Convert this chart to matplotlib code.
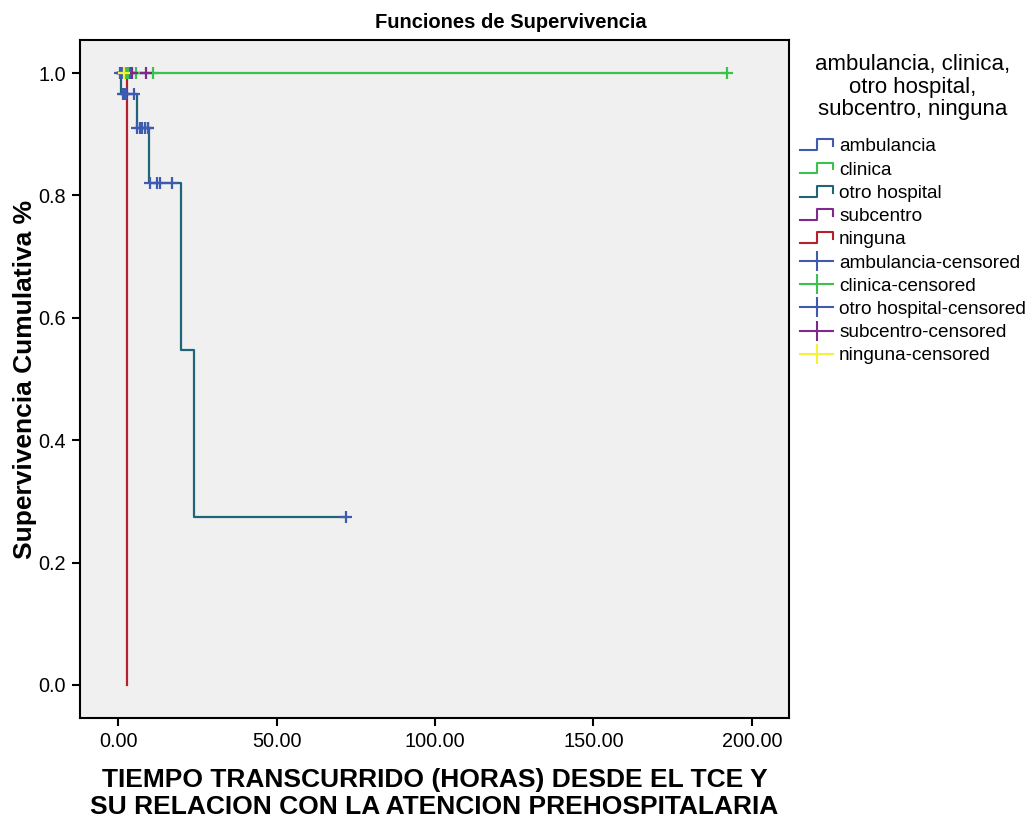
import numpy as np
import matplotlib
matplotlib.use("Agg")
import matplotlib.pyplot as plt
from matplotlib.lines import Line2D
from matplotlib.legend_handler import HandlerBase

plt.rcParams['font.family'] = ['Liberation Sans', 'DejaVu Sans']

# Kaplan-Meier curves: step times and survival after each step
groups = ["ambulancia", "clinica", "otro hospital", "subcentro", "ninguna"]

amb_times = [0.0, 3.8]
amb_surv = [1.0, 1.0]
amb_cens = [0.5, 1.2, 2.0, 3.8]

cli_times = [0.0, 192.0]
cli_surv = [1.0, 1.0]
cli_cens = [2.5, 3.0, 5.7, 11.0, 192.0]

otro_times = [0.0, 1.0, 5.9, 9.9, 19.9, 23.9, 71.8]
otro_surv = [1.0, 0.965, 0.911, 0.820, 0.547, 0.274, 0.274]
otro_cens = [1.5, 2.0, 2.5, 5.0, 6.0, 6.8, 7.7, 8.6, 9.5,
             9.6, 10.1, 12.4, 13.2, 17.1, 71.8]

sub_times = [0.0, 8.8]
sub_surv = [1.0, 1.0]
sub_cens = [4.5, 8.8]

nin_times = [0.0, 2.7]
nin_surv = [1.0, 0.0]
nin_cens = [1.9]

line_colors = ["#3e5bb0", "#3cc24c", "#1f6479", "#7e2a8c", "#b5202a"]
cens_colors = ["#3e5bb0", "#3cc24c", "#3e5bb0", "#7e2a8c", "#f6f23a"]

curves = [
    (amb_times, amb_surv, amb_cens),
    (cli_times, cli_surv, cli_cens),
    (otro_times, otro_surv, otro_cens),
    (sub_times, sub_surv, sub_cens),
    (nin_times, nin_surv, nin_cens),
]


class StepLine(Line2D):
    pass


class StepHandler(HandlerBase):
    # little step icon like the one SPSS draws for survival curves
    def create_artists(self, legend, orig_handle, xdescent, ydescent,
                       width, height, fontsize, trans):
        x0, w = -xdescent, width
        y0, h = -ydescent, height
        xs = [x0, x0 + 0.5 * w, x0 + 0.5 * w, x0 + w, x0 + w]
        ys = [y0 + 0.1 * h, y0 + 0.1 * h, y0 + 0.9 * h, y0 + 0.9 * h, y0 + 0.4 * h]
        ln = Line2D(xs, ys, color=orig_handle.get_color(), lw=1.5, transform=trans)
        return [ln]


fig = plt.figure(figsize=(10.31, 8.18), dpi=100)
ax = fig.add_axes([80 / 1031, 1 - 718 / 818, 709 / 1031, 678 / 818])
ax.set_facecolor("#f0f0f0")

# draw lines first, censor marks on top
for (t, s, c), col in zip(curves, line_colors):
    ax.step(t, s, where="post", color=col, lw=1.6, zorder=2)
for (t, s, c), col in zip(curves, cens_colors):
    idx = np.searchsorted(t, c, side="right") - 1
    cy = np.array(s)[idx]
    ax.plot(c, cy, ls="none", marker="+", ms=9, mew=1.6, color=col, zorder=3)

ax.set_xlim(-12, 211.7)
ax.set_ylim(-0.054, 1.054)
ax.set_xticks([0, 50, 100, 150, 200])
ax.set_xticklabels(["0.00", "50.00", "100.00", "150.00", "200.00"])
ax.set_yticks([0.0, 0.2, 0.4, 0.6, 0.8, 1.0])
ax.set_yticklabels(["0.0", "0.2", "0.4", "0.6", "0.8", "1.0"])
ax.tick_params(labelsize=14.3, length=6, width=1.5, direction="out", pad=4)
for sp in ax.spines.values():
    sp.set_linewidth(1.5)

fig.text(511 / 1031, 1 - 22 / 818, "Funciones de Supervivencia", fontsize=14.5,
         fontweight="bold", ha="center", va="center")
ax.set_ylabel("Supervivencia Cumulativa %", fontsize=19, fontweight="bold", labelpad=1)
ax.set_xlabel("TIEMPO TRANSCURRIDO (HORAS) DESDE EL TCE Y\nSU RELACION CON LA ATENCION PREHOSPITALARIA",
              fontsize=19, fontweight="bold", labelpad=12, linespacing=1.17)

handles = []
labels = []
for g, col in zip(groups, line_colors):
    handles.append(StepLine([], [], color=col))
    labels.append(g)
for g, col in zip(groups, cens_colors):
    handles.append(Line2D([], [], color=col, lw=1.5, marker="|", ms=14, mew=1.5))
    labels.append(g + "-censored")

fig.text(913 / 1031, 1 - 87 / 818, "ambulancia, clinica,\notro hospital,\nsubcentro, ninguna",
         fontsize=16, ha="center", va="center", multialignment="center", linespacing=1.12)

leg = fig.legend(handles, labels, loc="upper left",
                 bbox_to_anchor=(783 / 1031, 1 - 121 / 818),
                 fontsize=13.7, frameon=False,
                 handlelength=1.75, handletextpad=0.3, labelspacing=0.31,
                 handler_map={StepLine: StepHandler()})

fig.savefig("out.png", dpi=100)
